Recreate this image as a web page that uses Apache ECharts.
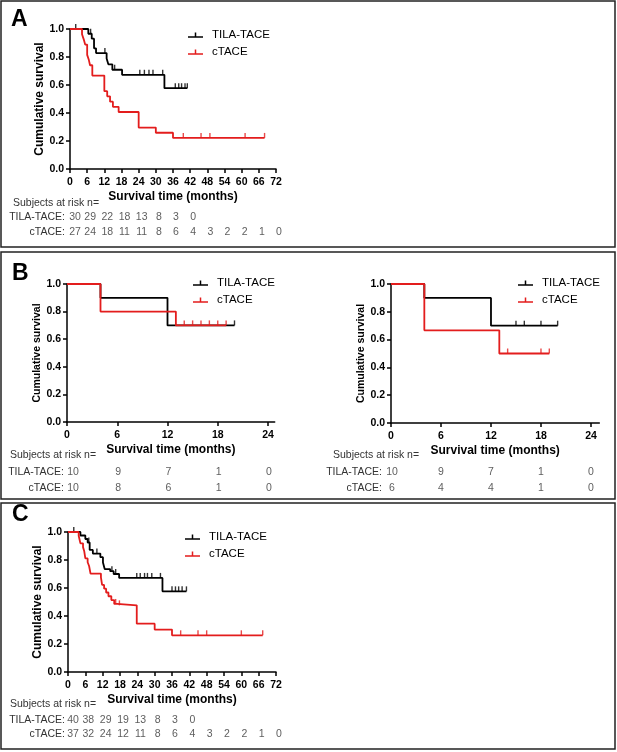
<!DOCTYPE html>
<html>
<head>
<meta charset="utf-8" />
<title>Kaplan-Meier: TILA-TACE vs cTACE</title>
<script src="https://cdn.jsdelivr.net/npm/echarts@6/dist/echarts.min.js"></script>
<style>
html, body { margin: 0; padding: 0; background: #fff; }
#main { width: 617px; height: 752px; }
</style>
</head>
<body>
<div id="main"></div>
<script>
// ---- data ----
var riskTimesLong = [0, 6, 12, 18, 24, 30, 36, 42, 48, 54, 60, 66, 72];
var riskTimesShort = [0, 6, 12, 18, 24];

// panel A
var kmA_tila = [[0, 1], [6.4, 0.966], [7.6, 0.931], [8.4, 0.862], [9.1, 0.828], [12.8, 0.79], [13.4, 0.748], [14.8, 0.709], [18.2, 0.673], [33, 0.577], [41, 0.577]];
var kmA_ctace = [[0, 1], [4.2, 0.963], [4.8, 0.926], [5.3, 0.889], [6, 0.815], [6.6, 0.778], [7, 0.741], [7.8, 0.667], [12, 0.556], [13, 0.519], [14, 0.481], [15, 0.444], [17, 0.407], [24, 0.296], [30, 0.259], [36, 0.222], [68, 0.222]];
var censA_tila = [[2, 1], [7.2, 0.966], [12.2, 0.828], [15.6, 0.709], [24.4, 0.673], [26, 0.673], [27.6, 0.673], [29, 0.673], [32.4, 0.673], [36.8, 0.577], [38, 0.577], [39, 0.577], [40.2, 0.577], [41, 0.577]];
var censA_ctace = [[39.6, 0.222], [45.8, 0.222], [48.9, 0.222], [61.2, 0.222], [68, 0.222]];
var riskA_tila = [30, 29, 22, 18, 13, 8, 3, 0];
var riskA_ctace = [27, 24, 18, 11, 11, 8, 6, 4, 3, 2, 2, 1, 0];

// panel B, left
var kmB1_tila = [[0, 1], [4, 0.9], [12, 0.7], [20, 0.7]];
var kmB1_ctace = [[0, 1], [4, 0.8], [13, 0.7], [19, 0.7]];
var censB1_tila = [[20, 0.7]];
var censB1_ctace = [[14, 0.7], [15, 0.7], [16, 0.7], [17, 0.7], [18, 0.7], [19, 0.7]];
var riskB1_tila = [10, 9, 7, 1, 0];
var riskB1_ctace = [10, 8, 6, 1, 0];

// panel B, right
var kmB2_tila = [[0, 1], [4, 0.9], [12, 0.7], [20, 0.7]];
var kmB2_ctace = [[0, 1], [4, 0.667], [13, 0.5], [19, 0.5]];
var censB2_tila = [[15, 0.7], [16, 0.7], [18, 0.7], [20, 0.7]];
var censB2_ctace = [[14, 0.5], [18, 0.5], [19, 0.5]];
var riskB2_tila = [10, 9, 7, 1, 0];
var riskB2_ctace = [6, 4, 4, 1, 0];

// panel C
var kmC_tila = [[0, 1], [4.3, 0.975], [6, 0.95], [6.8, 0.925], [7.5, 0.872], [8.6, 0.846], [11.2, 0.82], [12.1, 0.782], [12.7, 0.735], [14.6, 0.72], [15.8, 0.7], [17.7, 0.672], [32.7, 0.576], [41, 0.576]];
var kmC_ctace = [[0, 1], [3.7, 0.973], [4.3, 0.919], [5.2, 0.892], [5.6, 0.865], [6, 0.811], [6.8, 0.784], [7.3, 0.757], [7.8, 0.703], [11.4, 0.676], [11.8, 0.622], [12.5, 0.595], [13.2, 0.568], [14, 0.541], [15, 0.514], [16, 0.486], [17, 0.476], [23.8, 0.345], [30, 0.303], [36, 0.262], [67.4, 0.262]];
var censC_tila = [[2, 1], [7.2, 0.925], [10, 0.846], [15.2, 0.72], [16.5, 0.7], [23.8, 0.672], [25, 0.672], [26.5, 0.672], [27.5, 0.672], [29, 0.672], [32, 0.672], [36, 0.576], [37.2, 0.576], [38.3, 0.576], [39.5, 0.576], [41, 0.576]];
var censC_ctace = [[16.5, 0.486], [17.8, 0.476], [39, 0.262], [45, 0.262], [48, 0.262], [60, 0.262], [67.4, 0.262]];
var riskC_tila = [40, 38, 29, 19, 13, 8, 3, 0];
var riskC_ctace = [37, 32, 24, 12, 11, 8, 6, 4, 3, 2, 2, 1, 0];

var groupNames = ['TILA-TACE', 'cTACE'];
var riskRowNames = ['TILA-TACE:', 'cTACE:'];

// ---- layout ----
var FONT = '"Liberation Sans", Arial, Helvetica, sans-serif';
var BLACK = '#000';
var RED = '#e31d1d';

var panels = [
    { left: 70, top: 29, width: 206, height: 140, max: 72, riskTop: 210, riskHeight: 30, rowMargin: 5, numDx: 3, firstDx: 5, yNameSize: 12, yNameGap: 21,
      legendLeft: 188, legendTop: 28, times: riskTimesLong,
      tila: kmA_tila, ctace: kmA_ctace, censTila: censA_tila, censCtace: censA_ctace, riskTila: riskA_tila, riskCtace: riskA_ctace },
    { left: 67, top: 284, width: 207.7, height: 138, max: 24.8, riskTop: 464, riskHeight: 32, rowMargin: 3, numDx: 1, firstDx: 6, yNameSize: 10.5, yNameGap: 23,
      legendLeft: 193, legendTop: 276, times: riskTimesShort,
      tila: kmB1_tila, ctace: kmB1_ctace, censTila: censB1_tila, censCtace: censB1_ctace, riskTila: riskB1_tila, riskCtace: riskB1_ctace },
    { left: 391, top: 284, width: 208.3, height: 139, max: 25, riskTop: 464, riskHeight: 32, rowMargin: 9, numDx: 0, firstDx: 1, yNameSize: 10.5, yNameGap: 23,
      legendLeft: 518, legendTop: 276, times: riskTimesShort,
      tila: kmB2_tila, ctace: kmB2_ctace, censTila: censB2_tila, censCtace: censB2_ctace, riskTila: riskB2_tila, riskCtace: riskB2_ctace },
    { left: 68, top: 532, width: 208, height: 140, max: 72, riskTop: 713, riskHeight: 28, rowMargin: 3, numDx: 3, firstDx: 5, yNameSize: 12, yNameGap: 23,
      legendLeft: 185, legendTop: 530, times: riskTimesLong,
      tila: kmC_tila, ctace: kmC_ctace, censTila: censC_tila, censCtace: censC_ctace, riskTila: riskC_tila, riskCtace: riskC_ctace }
];

var legendIcon = 'path://M0,7h20v2h-20z M9,2h2v5h-2z';

var grid = [], xAxis = [], yAxis = [], series = [], legend = [];

panels.forEach(function (p, i) {
    var ri = i + panels.length;
    grid[i] = { left: p.left, top: p.top, width: p.width, height: p.height };
    grid[ri] = { left: p.left, top: p.riskTop, width: p.width, height: p.riskHeight };

    xAxis[i] = {
        gridIndex: i, type: 'value', min: 0, max: p.max, interval: 6,
        name: 'Survival time (months)', nameLocation: 'middle', nameGap: 22,
        nameTextStyle: { fontFamily: FONT, fontWeight: 'bold', fontSize: 12, color: BLACK },
        axisLine: { show: true, lineStyle: { color: BLACK, width: 1.5 } },
        axisTick: { show: true, inside: false, length: 4, lineStyle: { color: BLACK, width: 1.5 } },
        axisLabel: { fontFamily: FONT, fontWeight: 'bold', fontSize: 10.5, color: BLACK, margin: 8, showMaxLabel: p.max % 6 === 0 },
        splitLine: { show: false }
    };
    yAxis[i] = {
        gridIndex: i, type: 'value', min: 0, max: 1, interval: 0.2,
        name: 'Cumulative survival', nameLocation: 'middle', nameGap: p.yNameGap,
        nameTextStyle: { fontFamily: FONT, fontWeight: 'bold', fontSize: p.yNameSize, color: BLACK },
        axisLine: { show: true, lineStyle: { color: BLACK, width: 1.5 } },
        axisTick: { show: true, inside: false, length: 4, lineStyle: { color: BLACK, width: 1.5 } },
        axisLabel: { fontFamily: FONT, fontWeight: 'bold', fontSize: 10.5, color: BLACK, margin: 6,
            formatter: function (v) { return v.toFixed(1); } },
        splitLine: { show: false }
    };
    xAxis[ri] = { gridIndex: ri, type: 'value', min: 0, max: p.max, show: false };
    yAxis[ri] = {
        gridIndex: ri, type: 'category', inverse: true, data: riskRowNames,
        axisLine: { show: false }, axisTick: { show: false }, splitLine: { show: false },
        axisLabel: { interval: 0, fontFamily: FONT, fontSize: 10.5, color: '#333', margin: p.rowMargin }
    };

    [[p.tila, p.censTila, p.riskTila, BLACK], [p.ctace, p.censCtace, p.riskCtace, RED]].forEach(function (g, k) {
        series.push({
            name: groupNames[k], type: 'line', step: 'end', xAxisIndex: i, yAxisIndex: i,
            data: g[0], symbol: 'none', color: g[3],
            lineStyle: { color: g[3], width: 1.8 }, z: 2 + k
        });
        series.push({
            name: groupNames[k] + ' censored', type: 'scatter', xAxisIndex: i, yAxisIndex: i,
            data: g[1], symbol: 'rect', symbolSize: [1.4, 5], symbolOffset: [0, -2.5],
            itemStyle: { color: g[3] }, z: 2 + k
        });
        series.push({
            name: groupNames[k] + ' at risk', type: 'scatter', xAxisIndex: ri, yAxisIndex: ri,
            data: g[2].map(function (n, j) {
                return { value: [p.times[j], k, n], label: { offset: [j === 0 ? p.firstDx : p.numDx, 0] } };
            }),
            symbolSize: 1, itemStyle: { color: 'transparent' },
            label: { show: true, position: 'inside',
                formatter: function (q) { return q.value[2]; },
                fontFamily: FONT, fontSize: 10.5, color: '#333' }
        });
    });

    legend.push({
        data: groupNames, orient: 'vertical', left: p.legendLeft, top: p.legendTop,
        padding: 0, itemGap: 3, itemWidth: 15, itemHeight: 6, icon: legendIcon,
        textStyle: { fontFamily: FONT, fontSize: 11.5, color: BLACK, lineHeight: 14, padding: [0, 0, 0, 4] }
    });
});

var graphic = [];
[[1, 1, 614, 246], [1, 252, 614, 247], [1, 503, 614, 246]].forEach(function (b) {
    graphic.push({ type: 'rect', shape: { x: b[0], y: b[1], width: b[2], height: b[3] },
        style: { fill: 'none', stroke: '#222', lineWidth: 1.5 }, silent: true });
});
[['A', 11, 20], ['B', 12, 274], ['C', 12, 515]].forEach(function (t) {
    graphic.push({ type: 'text', x: t[1], y: t[2],
        style: { text: t[0], font: 'bold 23px ' + FONT, fill: BLACK, verticalAlign: 'middle' } });
});
[[13, 203], [10, 455], [333, 455], [10, 704]].forEach(function (t) {
    graphic.push({ type: 'text', x: t[0], y: t[1],
        style: { text: 'Subjects at risk n=', font: '10.5px ' + FONT, fill: '#333', verticalAlign: 'middle' } });
});

var chart = echarts.init(document.getElementById('main'));
chart.setOption({
    animation: false,
    backgroundColor: '#fff',
    grid: grid,
    xAxis: xAxis,
    yAxis: yAxis,
    legend: legend,
    series: series,
    graphic: graphic
});
</script>
</body>
</html>
